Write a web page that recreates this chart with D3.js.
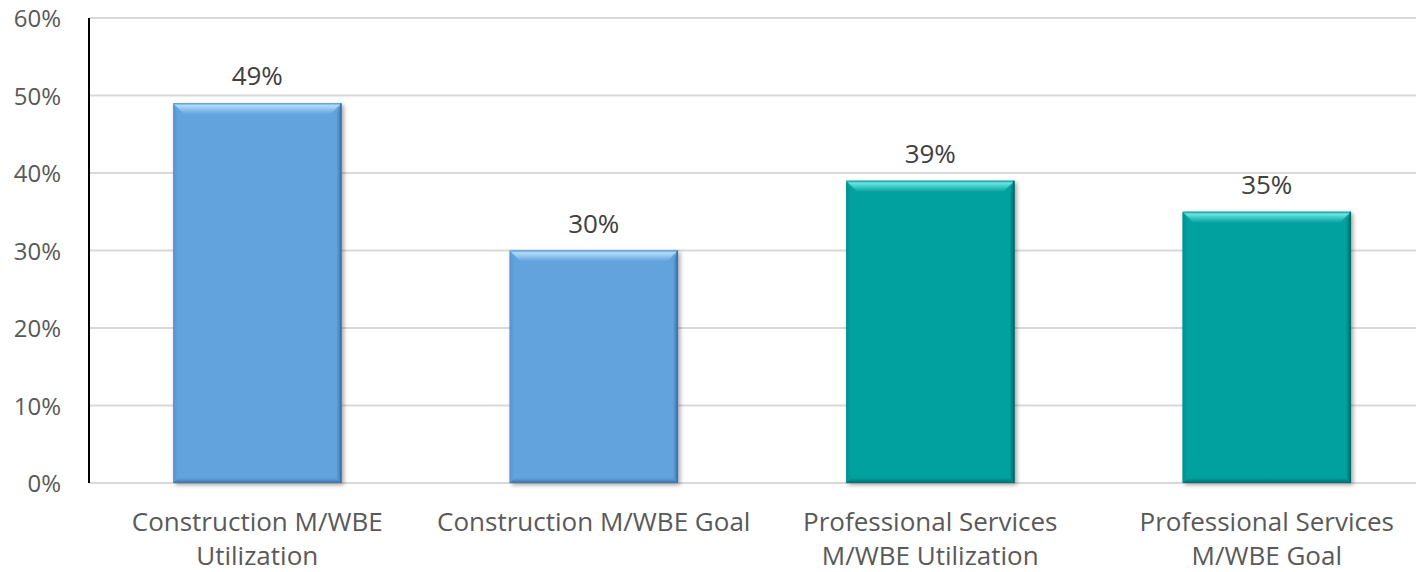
<!DOCTYPE html>
<html lang="en">
<head>
<meta charset="utf-8">
<title>M/WBE utilization vs goal</title>
<script src="https://d3js.org/d3.v7.min.js"></script>
<style>
  body { margin: 0; background: #fff; font-family: 'Open Sans', sans-serif; }
  svg { display: block; }
</style>
</head>
<body>
<div id="chart"></div>
<script>

/* Data */
/* ==== */

var categories = [
  ['Construction M/WBE', 'Utilization'],
  ['Construction M/WBE Goal'],
  ['Professional Services', 'M/WBE Utilization'],
  ['Professional Services', 'M/WBE Goal']
];
var values = [0.49, 0.30, 0.39, 0.35];
var barGroups = ['construction', 'construction', 'professional', 'professional'];
var yTicks = [0, 0.1, 0.2, 0.3, 0.4, 0.5, 0.6];


/* Setup */
/* ===== */

var width = 1416,
    height = 572;

var palette = {
  construction: { base: '#62a3de', light: '#b0dcfb', dark: '#3a74a8', side: '#5894cc' },
  professional: { base: '#05a19f', light: '#6ae6e4', dark: '#036b6a', side: '#058f8e' }
};

var svg = d3.select('#chart').append('svg')
  .attr('width', width)
  .attr('height', height);

var x = d3.scaleBand()
  .domain(d3.range(values.length))
  .range([89, 1435])
  .paddingInner(0.5)
  .paddingOuter(0.25);

var y = d3.scaleLinear()
  .domain([0, 0.6])
  .range([483, 18]);

var defs = svg.append('defs');

var shadow = defs.append('filter')
  .attr('id', 'shadow')
  .attr('x', '-10%').attr('y', '-10%')
  .attr('width', '130%').attr('height', '130%');
shadow.append('feDropShadow')
  .attr('dx', 2).attr('dy', 2)
  .attr('stdDeviation', 2)
  .attr('flood-color', '#000')
  .attr('flood-opacity', 0.35);

// gradients for the bevelled bar edges
Object.keys(palette).forEach(function(key) {
  var c = palette[key];

  var top = defs.append('linearGradient')
    .attr('id', 'top-' + key)
    .attr('x1', 0).attr('y1', 0).attr('x2', 0).attr('y2', 1);
  top.append('stop').attr('offset', '0%').attr('stop-color', c.side);
  top.append('stop').attr('offset', '20%').attr('stop-color', c.light);
  top.append('stop').attr('offset', '100%').attr('stop-color', c.base);

  var right = defs.append('linearGradient')
    .attr('id', 'right-' + key)
    .attr('x1', 0).attr('y1', 0).attr('x2', 1).attr('y2', 0);
  right.append('stop').attr('offset', '0%').attr('stop-color', c.base);
  right.append('stop').attr('offset', '100%').attr('stop-color', c.dark);

  var left = defs.append('linearGradient')
    .attr('id', 'left-' + key)
    .attr('x1', 0).attr('y1', 0).attr('x2', 1).attr('y2', 0);
  left.append('stop').attr('offset', '0%').attr('stop-color', c.side);
  left.append('stop').attr('offset', '100%').attr('stop-color', c.base);

  var bottom = defs.append('linearGradient')
    .attr('id', 'bottom-' + key)
    .attr('x1', 0).attr('y1', 0).attr('x2', 0).attr('y2', 1);
  bottom.append('stop').attr('offset', '0%').attr('stop-color', c.base);
  bottom.append('stop').attr('offset', '100%').attr('stop-color', c.dark);
});


/* Grid and axis */
/* ============= */

svg.append('g')
  .selectAll('line')
  .data(yTicks)
  .join('line')
    .attr('x1', 89)
    .attr('x2', width)
    .attr('y1', function(d) { return y(d); })
    .attr('y2', function(d) { return y(d); })
    .attr('stroke', '#d9d9d9')
    .attr('stroke-width', 2);

svg.append('line')
  .attr('x1', 89).attr('x2', 89)
  .attr('y1', y(0.6)).attr('y2', y(0))
  .attr('stroke', '#000')
  .attr('stroke-width', 2);

svg.append('g')
  .selectAll('text')
  .data(yTicks)
  .join('text')
    .attr('x', 61)
    .attr('y', function(d) { return y(d) + 9; })
    .attr('text-anchor', 'end')
    .attr('fill', '#595959')
    .attr('font-size', 24)
    .text(d3.format('.0%'));


/* Bars */
/* ==== */

var bev = 11, side = 5;

var bars = svg.append('g')
  .selectAll('g')
  .data(values)
  .join('g')
    .attr('filter', 'url(#shadow)');

bars.append('rect')
  .attr('x', function(d, i) { return x(i); })
  .attr('y', function(d) { return y(d); })
  .attr('width', x.bandwidth())
  .attr('height', function(d) { return y(0) - y(d); })
  .attr('fill', function(d, i) { return palette[barGroups[i]].base; });

function poly(pts) { return pts.map(function(p) { return p.join(','); }).join(' '); }

bars.each(function(d, i) {
  var g = d3.select(this),
      key = barGroups[i],
      x0 = x(i), x1 = x(i) + x.bandwidth(),
      y0 = y(d), y1 = y(0);

  g.append('polygon')
    .attr('points', poly([[x0, y1], [x0 + side, y1 - side], [x0 + side, y0 + bev], [x0, y0]]))
    .attr('fill', 'url(#left-' + key + ')');
  g.append('polygon')
    .attr('points', poly([[x1, y1], [x1 - side, y1 - side], [x1 - side, y0 + bev], [x1, y0]]))
    .attr('fill', 'url(#right-' + key + ')');
  g.append('polygon')
    .attr('points', poly([[x0, y1], [x0 + side, y1 - side], [x1 - side, y1 - side], [x1, y1]]))
    .attr('fill', 'url(#bottom-' + key + ')');
  g.append('polygon')
    .attr('points', poly([[x0, y0], [x1, y0], [x1 - bev, y0 + bev], [x0 + bev, y0 + bev]]))
    .attr('fill', 'url(#top-' + key + ')');
  g.append('line')
    .attr('x1', x1 - 0.5).attr('x2', x1 - 0.5)
    .attr('y1', y0).attr('y2', y1)
    .attr('stroke', palette[key].dark)
    .attr('stroke-width', 1.5);
});


/* Labels */
/* ====== */

svg.append('g')
  .selectAll('text')
  .data(values)
  .join('text')
    .attr('x', function(d, i) { return x(i) + x.bandwidth() / 2; })
    .attr('y', function(d) { return y(d) - 18; })
    .attr('text-anchor', 'middle')
    .attr('fill', '#404040')
    .attr('font-size', 26)
    .text(d3.format('.0%'));

var catLabels = svg.append('g')
  .selectAll('text')
  .data(categories)
  .join('text')
    .attr('x', function(d, i) { return x(i) + x.bandwidth() / 2; })
    .attr('y', 531)
    .attr('text-anchor', 'middle')
    .attr('fill', '#595959')
    .attr('font-size', 26);

catLabels.selectAll('tspan')
  .data(function(d) { return d; })
  .join('tspan')
    .attr('x', function() { return d3.select(this.parentNode).attr('x'); })
    .attr('dy', function(d, i) { return i === 0 ? 0 : 34; })
    .text(function(d) { return d; });

</script>
</body>
</html>
